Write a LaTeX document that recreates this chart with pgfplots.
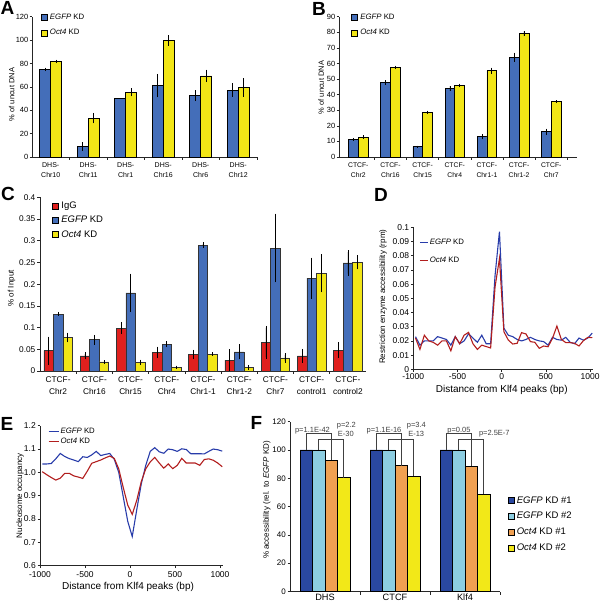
\documentclass[border=0pt]{standalone}
\usepackage{fontspec}
\setmainfont{Liberation Sans}
\usepackage{pgfplots}
\pgfplotsset{compat=1.18}
\definecolor{ablue}{RGB}{68,110,185}
\definecolor{ayel}{RGB}{242,230,22}
\definecolor{cred}{RGB}{224,32,30}
\definecolor{fdblue}{RGB}{42,72,160}
\definecolor{flblue}{RGB}{140,205,225}
\definecolor{forange}{RGB}{240,160,82}
\definecolor{fyel}{RGB}{242,232,24}
\definecolor{lblue}{RGB}{40,60,170}
\definecolor{lred}{RGB}{178,30,30}
\pgfplotsset{
  base/.style={scale only axis, axis lines=left, axis line style={-, line width=0.8pt, black!85},
    tick align=outside, tick style={line width=0.6pt, black!85}, major tick length=2.5pt,
    minor tick length=3pt, enlargelimits=false, clip=false, anchor=south west},
  sqleg/.style={legend cell align=left,
    legend image code/.code={\draw[##1, line width=0.5pt, draw=black] (0pt,-3pt) rectangle (6pt,3pt);},
    legend style={draw=none, fill=none, inner sep=0pt, outer sep=0pt, row sep=#1,
      nodes={inner sep=0pt, outer sep=0pt},
      /tikz/every odd column/.append style={column sep=2.5pt}}},
  lnleg/.style={legend cell align=left,
    legend image code/.code={\draw[##1] (0pt,0pt) -- (#1,0pt);},
    legend style={draw=none, fill=none, inner sep=0pt, outer sep=0pt,
      nodes={inner sep=0pt, outer sep=0pt},
      /tikz/every odd column/.append style={column sep=1.5pt}}},
  ebar/.style={error bars/.cd, y dir=both, y explicit, error bar style={line width=0.8pt, black}, error mark=none},
  ebarc/.style={error bars/.cd, y dir=both, y explicit, error bar style={line width=0.6pt, black},
    error mark options={mark size=1.8pt, line width=0.6pt, black}},
}
\begin{document}
\begin{tikzpicture}[x=1pt,y=1pt]
\useasboundingbox (0,0) rectangle (600,603);
% panel letters
\node[font=\fontsize{19}{19}\selectfont\bfseries] at (7.5,595) {A};
\node[font=\fontsize{19}{19}\selectfont\bfseries] at (319,594.5) {B};
\node[font=\fontsize{19}{19}\selectfont\bfseries] at (8,409.5) {C};
\node[font=\fontsize{19}{19}\selectfont\bfseries] at (381,408) {D};
\node[font=\fontsize{19}{19}\selectfont\bfseries] at (7,179.5) {E};
\node[font=\fontsize{19}{19}\selectfont\bfseries] at (256.5,180.5) {F};

% ---------------- A
\begin{axis}[base, at={(32pt,446pt)}, width=225pt, height=140.3pt,
  ybar, bar width=11pt, xmin=-0.5, xmax=5.5, ymin=0, ymax=120,
  xtick={0,...,5},
  xticklabels={{DHS-\\Chr10},{DHS-\\Chr11},{DHS-\\Chr1},{DHS-\\Chr16},{DHS-\\Chr6},{DHS-\\Chr12}},
  minor xtick={0.5,1.5,2.5,3.5,4.5,5.5}, major x tick style={draw=none},
  x tick label style={align=center, font=\fontsize{7}{9.5}\selectfont},
  ytick={0,20,40,60,80,100,120}, yticklabels={0,20,40,60,80,100,120},
  y tick label style={font=\fontsize{7.5}{9}\selectfont, inner sep=1pt},
  ylabel={\% of uncut DNA},
  ylabel style={at={(axis description cs:-0.09,0.445)}, anchor=center, font=\fontsize{7.5}{9}\selectfont},
  sqleg=8.5pt,
  legend style={at={(axis description cs:0.04,1.02)}, anchor=north west, font=\fontsize{7.8}{9}\selectfont},
]
\addplot[fill=ablue, draw=black, line width=0.6pt, bar shift=-5.5pt, ebar] coordinates {
 (0,75) +- (0,1.5) (1,9) +- (0,3.5) (2,50) +- (0,0) (3,61) +- (0,10) (4,52.5) +- (0,4.8) (5,57.3) +- (0,5.7)};
\addlegendentry{\textit{EGFP} KD}
\addplot[fill=ayel, draw=black, line width=0.6pt, bar shift=5.5pt, ebar] coordinates {
 (0,81.7) +- (0,1.5) (1,33.3) +- (0,4.5) (2,55.4) +- (0,3.5) (3,99.8) +- (0,4.5) (4,69.4) +- (0,5.4) (5,59.5) +- (0,8)};
\addlegendentry{\textit{Oct4} KD}
\end{axis}

% ---------------- B
\begin{axis}[base, at={(339pt,446pt)}, width=238pt, height=140.3pt,
  ybar, bar width=9.7pt, xmin=-0.6, xmax=6.8, ymin=0, ymax=90,
  xtick={0,...,6},
  xticklabels={{CTCF-\\Chr2},{CTCF-\\Chr16},{CTCF-\\Chr15},{CTCF-\\Chr4},{CTCF-\\Chr1-1},{CTCF-\\Chr1-2},{CTCF-\\Chr7}},
  minor xtick={0.5,1.5,2.5,3.5,4.5,5.5,6.5}, major x tick style={draw=none},
  x tick label style={align=center, font=\fontsize{6.8}{9.5}\selectfont},
  ytick={0,10,20,30,40,50,60,70,80,90}, yticklabels={0,10,20,30,40,50,60,70,80,90},
  y tick label style={font=\fontsize{7.5}{9}\selectfont, inner sep=1pt},
  ylabel={\% of uncut DNA},
  ylabel style={at={(axis description cs:-0.075,0.495)}, anchor=center, font=\fontsize{7.5}{9}\selectfont},
  sqleg=8.5pt,
  legend style={at={(axis description cs:0.052,1.02)}, anchor=north west, font=\fontsize{7.8}{9}\selectfont},
]
\addplot[fill=ablue, draw=black, line width=0.6pt, bar shift=-4.85pt, ebar] coordinates {
 (0,11.3) +- (0,1) (1,47.8) +- (0,1.5) (2,6.6) +- (0,0.7) (3,43.9) +- (0,1.5) (4,13) +- (0,1.5) (5,64) +- (0,3) (6,16.2) +- (0,2)};
\addlegendentry{\textit{EGFP} KD}
\addplot[fill=ayel, draw=black, line width=0.6pt, bar shift=4.85pt, ebar] coordinates {
 (0,12.8) +- (0,1.2) (1,57.6) +- (0,1) (2,28.8) +- (0,1) (3,45.8) +- (0,1.2) (4,55.4) +- (0,2) (5,79.1) +- (0,1.5) (6,35.6) +- (0,0.8)};
\addlegendentry{\textit{Oct4} KD}
\end{axis}

% ---------------- C
\begin{axis}[base, at={(40pt,232pt)}, width=326pt, height=173.7pt,
  ybar, bar width=9.5pt, xmin=-0.5, xmax=8.5, ymin=0, ymax=0.4,
  xtick={0,...,8},
  xticklabels={{CTCF-\\Chr2},{CTCF-\\Chr16},{CTCF-\\Chr15},{CTCF-\\Chr4},{CTCF-\\Chr1-1},{CTCF-\\Chr1-2},{CTCF-\\Chr7},{CTCF-\\control1},{CTCF-\\control2}},
  minor xtick={0.5,1.5,2.5,3.5,4.5,5.5,6.5,7.5}, major x tick style={draw=none},
  x tick label style={align=center, font=\fontsize{8.3}{11.5}\selectfont},
  ytick={0,0.05,0.1,0.15,0.2,0.25,0.3,0.35,0.4}, yticklabels={0,0.05,0.1,0.15,0.2,0.25,0.3,0.35,0.4},
  y tick label style={font=\fontsize{8.3}{9}\selectfont, inner sep=2pt},
  ylabel={\% of Input},
  ylabel style={at={(axis description cs:-0.087,0.476)}, anchor=center, font=\fontsize{8}{9}\selectfont},
  sqleg=6pt,
  legend style={at={(axis description cs:0.038,0.972)}, anchor=north west, font=\fontsize{9.5}{10}\selectfont},
]
\addplot[fill=cred, draw=black!80, line width=0.5pt, bar shift=-9.5pt, ebarc] coordinates {
 (0,0.047) +- (0,0.028) (1,0.035) +- (0,0.004) (2,0.099) +- (0,0.01) (3,0.043) +- (0,0.009) (4,0.038) +- (0,0.007)
 (5,0.025) +- (0,0.021) (6,0.066) +- (0,0.034) (7,0.035) +- (0,0.012) (8,0.048) +- (0,0.014)};
\addlegendentry{IgG}
\addplot[fill=ablue, draw=black!80, line width=0.5pt, bar shift=0pt, ebarc] coordinates {
 (0,0.131) +- (0,0) (1,0.072) +- (0,0.007) (2,0.18) +- (0,0.04) (3,0.062) +- (0,0.002) (4,0.29) +- (0,0.002)
 (5,0.044) +- (0,0.013) (6,0.283) +- (0,0.075) (7,0.214) +- (0,0.043) (8,0.249) +- (0,0.025)};
\addlegendentry{\textit{EGFP} KD}
\addplot[fill=ayel, draw=black!80, line width=0.5pt, bar shift=9.5pt, ebarc] coordinates {
 (0,0.077) +- (0,0.007) (1,0.021) +- (0,0) (2,0.02) +- (0,0.002) (3,0.008) +- (0,0) (4,0.039) +- (0,0)
 (5,0.008) +- (0,0.002) (6,0.03) +- (0,0.007) (7,0.225) +- (0,0.04) (8,0.25) +- (0,0.012)};
\addlegendentry{\textit{Oct4} KD}
\end{axis}

% ---------------- D
\begin{axis}[base, at={(413.3pt,233.7pt)}, width=179.4pt, height=142pt,
  xmin=-1000, xmax=1030, ymin=0, ymax=0.1,
  xtick={-1000,-500,0,500,1000}, xticklabels={-1000,-500,0,500,1000},
  ytick={0,0.01,0.02,0.03,0.04,0.05,0.06,0.07,0.08,0.09,0.1},
  yticklabels={0,0.01,0.02,0.03,0.04,0.05,0.06,0.07,0.08,0.09,0.1},
  tick label style={font=\fontsize{8.5}{9}\selectfont},
  x tick label style={inner sep=1.5pt},
  y tick label style={inner sep=1.5pt},
  xlabel={Distance from Klf4 peaks (bp)},
  xlabel style={at={(axis description cs:0.493,-0.146)}, anchor=center, font=\fontsize{10}{11}\selectfont},
  ylabel={Restriction enzyme accessibility (rpm)},
  ylabel style={at={(axis description cs:-0.169,0.511)}, anchor=center, font=\fontsize{8}{9}\selectfont},
  lnleg=8pt,
  legend style={at={(axis description cs:0.033,0.92)}, anchor=north west, row sep=11.5pt, font=\fontsize{7.8}{9}\selectfont},
]
\addplot[lblue, line width=1.1pt, no marks] coordinates {
(-975,0.023) (-925,0.017) (-875,0.020) (-825,0.020) (-775,0.020) (-725,0.023) (-675,0.022) (-625,0.021)
(-575,0.017) (-525,0.023) (-475,0.018) (-425,0.020) (-375,0.025) (-325,0.022) (-275,0.019) (-225,0.024)
(-175,0.018) (-125,0.018) (-75,0.066) (-25,0.097) (25,0.029) (75,0.024) (125,0.023) (175,0.021)
(225,0.020) (275,0.021) (325,0.0225) (375,0.021) (425,0.020) (475,0.0195) (525,0.017) (575,0.0225)
(625,0.021) (675,0.0205) (725,0.0225) (775,0.019) (825,0.018) (875,0.022) (925,0.0205) (975,0.022) (1025,0.0255)};
\addlegendentry{\textit{EGFP} KD}
\addplot[lred, line width=1.1pt, no marks] coordinates {
(-975,0.022) (-925,0.014) (-875,0.024) (-825,0.020) (-775,0.019) (-725,0.017) (-675,0.020) (-625,0.020)
(-575,0.013) (-525,0.023) (-475,0.018) (-425,0.024) (-375,0.026) (-325,0.018) (-275,0.014) (-225,0.017)
(-175,0.016) (-125,0.015) (-75,0.058) (-25,0.078) (25,0.0265) (75,0.0206) (125,0.0178) (175,0.0183)
(225,0.0258) (275,0.0249) (325,0.0195) (375,0.019) (425,0.0148) (475,0.0164) (525,0.0159) (575,0.0218)
(625,0.0305) (675,0.0211) (725,0.0188) (775,0.0188) (825,0.0183) (875,0.0164) (925,0.0202) (975,0.0225) (1025,0.0223)};
\addlegendentry{\textit{Oct4} KD}
\end{axis}

% ---------------- E
\begin{axis}[base, at={(40pt,37.3pt)}, width=182.7pt, height=140pt,
  xmin=-1000, xmax=1030, ymin=0.6, ymax=1.2,
  xtick={-1000,-500,0,500,1000}, xticklabels={-1000,-500,0,500,1000},
  ytick={0.6,0.7,0.8,0.9,1.0,1.1,1.2}, yticklabels={0.6,0.7,0.8,0.9,1.0,1.1,1.2},
  tick label style={font=\fontsize{8.5}{9}\selectfont},
  y tick label style={inner sep=1.5pt},
  xlabel={Distance from Klf4 peaks (bp)},
  xlabel style={at={(axis description cs:0.482,-0.15)}, anchor=center, font=\fontsize{10}{11}\selectfont},
  ylabel={Nucleosome occupancy},
  ylabel style={at={(axis description cs:-0.109,0.5)}, anchor=center, font=\fontsize{8}{9}\selectfont},
  lnleg=10pt,
  legend style={at={(axis description cs:0.044,0.985)}, anchor=north west, row sep=3pt, font=\fontsize{7.8}{9}\selectfont},
]
\addplot[lblue, line width=1.1pt, no marks] coordinates {
(-975,1.036) (-925,1.036) (-875,1.038) (-825,1.058) (-775,1.081) (-725,1.068) (-675,1.059) (-625,1.053)
(-575,1.046) (-525,1.067) (-475,1.064) (-425,1.075) (-375,1.09) (-325,1.072) (-275,1.077) (-225,1.081)
(-175,1.056) (-125,1.0) (-75,0.895) (-25,0.79) (25,0.725) (75,0.84) (125,0.95) (175,1.03)
(225,1.09) (275,1.106) (325,1.088) (375,1.082) (425,1.1) (475,1.097) (525,1.09) (575,1.101)
(625,1.098) (675,1.08) (725,1.08) (775,1.08) (825,1.079) (875,1.09) (925,1.1) (975,1.097) (1025,1.091)};
\addlegendentry{\textit{EGFP} KD}
\addplot[lred, line width=1.1pt, no marks] coordinates {
(-975,1.003) (-925,0.99) (-875,0.978) (-825,0.967) (-775,0.975) (-725,0.996) (-675,0.996) (-625,0.985)
(-575,0.98) (-525,0.974) (-475,1.005) (-425,1.039) (-375,1.046) (-325,1.053) (-275,1.062) (-225,1.07)
(-175,1.06) (-125,1.015) (-75,0.935) (-25,0.86) (25,0.82) (75,0.88) (125,0.96) (175,1.015)
(225,1.045) (275,1.064) (325,1.04) (375,1.018) (425,1.036) (475,1.016) (525,1.03) (575,1.06)
(625,1.04) (675,1.04) (725,1.04) (775,1.03) (825,1.055) (875,1.058) (925,1.052) (975,1.04) (1025,1.024)};
\addlegendentry{\textit{Oct4} KD}
\end{axis}

% ---------------- F
\begin{axis}[base, at={(290pt,11.5pt)}, width=210pt, height=169.8pt,
  ybar, bar width=12.5pt, xmin=-0.5, xmax=2.5, ymin=0, ymax=120,
  xtick={0,1,2}, xticklabels={DHS,CTCF,Klf4},
  minor xtick={0.5,1.5,2.5}, major x tick style={draw=none},
  x tick label style={font=\fontsize{9.2}{10}\selectfont, inner sep=0.5pt, yshift=1pt},
  ytick={0,20,40,60,80,100,120}, yticklabels={0,20,40,60,80,100,120},
  y tick label style={font=\fontsize{8}{9}\selectfont, inner sep=1.5pt},
  ylabel={\% accessibility (rel. to \textit{EGFP} KD)},
  ylabel style={at={(axis description cs:-0.111,0.539)}, anchor=center, font=\fontsize{8}{9}\selectfont},
  sqleg=7.8pt,
  legend style={at={(axis description cs:1.037,0.56)}, anchor=north west, font=\fontsize{9.5}{10}\selectfont},
]
\addplot[fill=fdblue, draw=black, line width=0.8pt, bar shift=-18.75pt] coordinates {(0,100) (1,100) (2,100)};
\addlegendentry{\textit{EGFP} KD \#1}
\addplot[fill=flblue, draw=black, line width=0.8pt, bar shift=-6.25pt] coordinates {(0,100) (1,100) (2,100)};
\addlegendentry{\textit{EGFP} KD \#2}
\addplot[fill=forange, draw=black, line width=0.8pt, bar shift=6.25pt] coordinates {(0,92.7) (1,88.9) (2,88.4)};
\addlegendentry{\textit{Oct4} KD \#1}
\addplot[fill=fyel, draw=black, line width=0.8pt, bar shift=18.75pt] coordinates {(0,80.5) (1,81.5) (2,68.9)};
\addlegendentry{\textit{Oct4} KD \#2}
% significance brackets
\draw[black!75, line width=0.7pt] (axis cs:-0.268,100) -- (axis cs:-0.268,111.5) -- (axis cs:0.089,111.5) -- (axis cs:0.089,92.7);
\draw[black!75, line width=0.7pt] (axis cs:-0.089,100) -- (axis cs:-0.089,107.6) -- (axis cs:0.268,107.6) -- (axis cs:0.268,80.5);
\draw[black!75, line width=0.7pt] (axis cs:0.732,100) -- (axis cs:0.732,111.5) -- (axis cs:1.089,111.5) -- (axis cs:1.089,88.9);
\draw[black!75, line width=0.7pt] (axis cs:0.911,100) -- (axis cs:0.911,107.6) -- (axis cs:1.268,107.6) -- (axis cs:1.268,81.5);
\draw[black!75, line width=0.7pt] (axis cs:1.732,100) -- (axis cs:1.732,111.5) -- (axis cs:2.089,111.5) -- (axis cs:2.089,88.4);
\draw[black!75, line width=0.7pt] (axis cs:1.911,100) -- (axis cs:1.911,107.6) -- (axis cs:2.268,107.6) -- (axis cs:2.268,68.9);
\begin{scope}[every node/.style={font=\fontsize{7.5}{8}\selectfont, text=black!75, inner sep=0.5pt}]
\node[anchor=center] at (axis cs:-0.179,113.9) {p=1.1E-42};
\node[anchor=west] at (axis cs:0.160,117.2) {p=2.2};
\node[anchor=west] at (axis cs:0.175,111.3) {E-30};
\node[anchor=center] at (axis cs:0.843,113.9) {p=1.1E-16};
\node[anchor=west] at (axis cs:1.160,117.2) {p=3.4};
\node[anchor=west] at (axis cs:1.180,111.3) {E-13};
\node[anchor=center] at (axis cs:1.914,113.9) {p=0.05};
\node[anchor=west] at (axis cs:2.19,111.3) {p=2.5E-7};
\end{scope}
\end{axis}
\end{tikzpicture}
\end{document}
